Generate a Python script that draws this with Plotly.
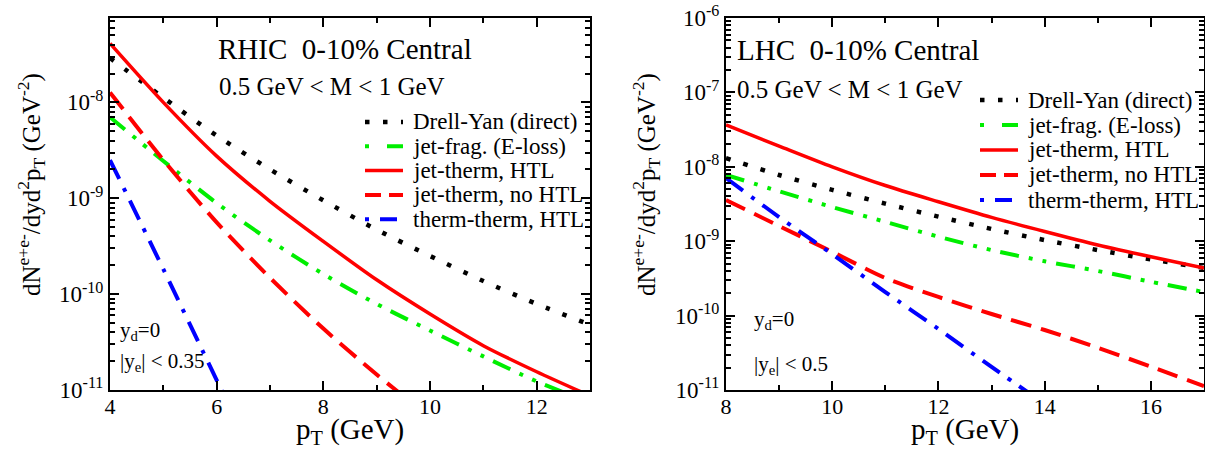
import plotly.graph_objects as go

# ---------------- data: RHIC panel ----------------
rhic_pt = [4, 5, 6, 7, 8, 9, 10, 11, 12, 13]
rhic_drell_yan = [2.9e-8, 1.12e-8, 4.5e-9, 2.0e-9, 9.5e-10, 4.7e-10, 2.5e-10, 1.37e-10, 7.9e-11, 4.8e-11]
rhic_jet_frag = [7.0e-9, 2.45e-9, 8.9e-10, 3.63e-10, 1.62e-10, 7.9e-11, 4.17e-11, 2.24e-11, 1.23e-11, 7.4e-12]
rhic_jet_therm_htl = [4.12e-8, 1.0e-8, 2.75e-9, 9.3e-10, 3.55e-10, 1.41e-10, 6.2e-11, 2.9e-11, 1.55e-11, 8.7e-12]
rhic_pt_nohtl = [4, 5, 6, 7, 8, 9, 10]
rhic_jet_therm_nohtl = [1.27e-8, 2.51e-9, 5.6e-10, 1.48e-10, 4.37e-11, 1.45e-11, 5.2e-12]
rhic_pt_tt = [4, 5, 6, 7]
rhic_therm_therm = [2.5e-9, 1.82e-10, 1.27e-11, 9.0e-13]

# ---------------- data: LHC panel ----------------
lhc_pt = [8, 9, 10, 11, 12, 13, 14, 15, 16, 17]
lhc_drell_yan = [1.31e-8, 7.76e-9, 4.9e-9, 3.2e-9, 2.14e-9, 1.46e-9, 1.035e-9, 7.6e-10, 5.7e-10, 4.37e-10]
lhc_jet_frag = [7.8e-9, 4.68e-9, 2.88e-9, 1.82e-9, 1.15e-9, 7.6e-10, 5.37e-10, 3.98e-10, 2.85e-10, 2.07e-10]
lhc_jet_therm_htl = [3.65e-8, 1.9e-8, 1.0e-8, 5.6e-9, 3.39e-9, 2.09e-9, 1.35e-9, 8.9e-10, 6.17e-10, 4.37e-10]
lhc_jet_therm_nohtl = [3.58e-9, 1.6e-9, 7.2e-10, 3.2e-10, 1.78e-10, 1.05e-10, 6.4e-11, 3.7e-11, 2.06e-11, 1.13e-11]
lhc_pt_tt = [8, 9, 10, 11, 12, 13, 14]
lhc_therm_therm = [7.06e-9, 2.11e-9, 6.7e-10, 2.07e-10, 6.6e-11, 2.04e-11, 6.5e-12]

series_names = ["Drell-Yan (direct)", "jet-frag. (E-loss)", "jet-therm, HTL",
                "jet-therm, no HTL", "therm-therm, HTL"]

rhic_ytick_exp = [-11, -10, -9, -8]
lhc_ytick_exp = [-11, -10, -9, -8, -7, -6]

W, H = 1205, 450
FONT = "Liberation Serif"


def fx(px):
    return px / W


def fy(py):
    return 1 - py / H


styles = [
    dict(color="black", width=4.5, dash="4.5px,13.5px"),
    dict(color="#00ee00", width=4, dash="19px,10px,4px,10px,4px,10px"),
    dict(color="#ff0000", width=3.5, dash="solid"),
    dict(color="#ff0000", width=4, dash="21px,10px"),
    dict(color="#0000ff", width=4, dash="21px,10px,4px,10px"),
]
legend_dash = ["4.5px,13.5px", "4px,18px,16px,20px", "solid", "16px,8px", "4px,11px,17px,20px"]

fig = go.Figure()

rhic = [(rhic_pt, rhic_drell_yan), (rhic_pt, rhic_jet_frag), (rhic_pt, rhic_jet_therm_htl),
        (rhic_pt_nohtl, rhic_jet_therm_nohtl), (rhic_pt_tt, rhic_therm_therm)]
lhc = [(lhc_pt, lhc_drell_yan), (lhc_pt, lhc_jet_frag), (lhc_pt, lhc_jet_therm_htl),
       (lhc_pt, lhc_jet_therm_nohtl), (lhc_pt_tt, lhc_therm_therm)]

for (x, y), st, nm in zip(rhic, styles, series_names):
    fig.add_trace(go.Scatter(x=x, y=y, mode="lines", name=nm,
                             line=dict(st, shape="spline", smoothing=0.8),
                             xaxis="x", yaxis="y", showlegend=False))
for (x, y), st, nm in zip(lhc, styles, series_names):
    fig.add_trace(go.Scatter(x=x, y=y, mode="lines", name=nm,
                             line=dict(st, shape="spline", smoothing=0.8),
                             xaxis="x2", yaxis="y2", showlegend=False))


def minor_log_vals(lo, hi):
    vals = []
    for e in range(lo, hi):
        for m in range(2, 10):
            vals.append(m * 10.0 ** e)
    return vals


def major_log(exps):
    return dict(tickmode="array", tickvals=[10.0 ** e for e in exps],
                ticktext=["10<sup>%d</sup>" % e for e in exps])


common_axis = dict(showline=True, linecolor="black", linewidth=2, mirror="allticks",
                   ticks="inside", ticklen=9, tickwidth=1.5, tickcolor="black",
                   showgrid=False, zeroline=False, automargin=False,
                   tickfont=dict(family=FONT, size=22, color="black"))
minor_x = dict(dtick=1, ticks="inside", ticklen=5, tickwidth=1.5, tickcolor="black")

xa = dict(common_axis, range=[4, 13], dtick=2, tick0=0, ticklabelstandoff=-4,
          domain=[fx(110), fx(590)], anchor="y", minor=minor_x)
xa2 = dict(common_axis, range=[8, 17], dtick=2, tick0=0, ticklabelstandoff=-4,
           domain=[fx(726), fx(1204)], anchor="y2", minor=minor_x)
ya = dict(common_axis, type="log", range=[-11, -7.12],
          domain=[fy(390), fy(18)], anchor="x",
          minor=dict(tickmode="array", tickvals=minor_log_vals(-11, -7), ticks="inside",
                     ticklen=5, tickwidth=1.5, tickcolor="black"),
          **major_log(rhic_ytick_exp))
ya["tickfont"] = dict(family=FONT, size=23, color="black")
ya2 = dict(common_axis, type="log", range=[-11, -6],
           domain=[fy(390), fy(18)], anchor="x2",
           minor=dict(tickmode="array", tickvals=minor_log_vals(-11, -6), ticks="inside",
                      ticklen=5, tickwidth=1.5, tickcolor="black"),
           **major_log(lhc_ytick_exp))
ya2["tickfont"] = dict(family=FONT, size=23, color="black")

annotations = []
shapes = []


def txt(s, x, y, size, xanchor="left", angle=0):
    annotations.append(dict(text=s, x=fx(x), y=fy(y), xref="paper", yref="paper",
                            xanchor=xanchor, yanchor="middle", showarrow=False,
                            textangle=angle,
                            font=dict(family=FONT, size=size, color="black")))


nb = "\u00a0"
# RHIC panel texts
txt("RHIC" + nb + nb + "0-10% Central", 216, 49, 29)
txt("0.5 GeV &lt; M &lt; 1 GeV", 217, 86, 25)
txt("y<sub>d</sub>=0", 118, 331, 21)
txt("|y<sub>e</sub>| &lt; 0.35", 118, 362, 21)
# LHC panel texts
txt("LHC" + nb + nb + "0-10% Central", 735, 50, 29)
txt("0.5 GeV &lt; M &lt; 1 GeV", 735, 90, 25)
txt("y<sub>d</sub>=0", 752, 320, 21)
txt("|y<sub>e</sub>| &lt; 0.5", 752, 365, 21)

# axis titles
ytitle = "dN<sup>e+e-</sup>/dyd<sup>2</sup>p<sub>T</sub> (GeV<sup>-2</sup>)"
txt(ytitle, 31, 185, 25, xanchor="center", angle=-90)
txt(ytitle, 646, 185, 25, xanchor="center", angle=-90)
txt("p<sub>T</sub> (GeV)", 350, 431, 29, xanchor="center")
txt("p<sub>T</sub> (GeV)", 965, 431, 29, xanchor="center")

# legends
legend_specs = [(365, 403, 411, 122, 24.3), (980, 1018, 1026, 100, 25)]
for (lx0, lx1, tx, y0, dy) in legend_specs:
    for i, (st, nm) in enumerate(zip(styles, series_names)):
        yy = y0 + i * dy
        shapes.append(dict(type="line", xref="paper", yref="paper",
                           x0=fx(lx0), x1=fx(lx1), y0=fy(yy), y1=fy(yy),
                           line=dict(color=st["color"], width=st["width"], dash=legend_dash[i])))
        txt(nm, tx, yy, 23)

fig.update_layout(
    width=W, height=H,
    margin=dict(l=0, r=0, t=0, b=0),
    paper_bgcolor="white", plot_bgcolor="white",
    xaxis=xa, yaxis=ya, xaxis2=xa2, yaxis2=ya2,
    annotations=annotations, shapes=shapes,
    showlegend=False,
    font=dict(family=FONT, color="black"),
)

fig.write_html("out.html", config={"displayModeBar": False},
               post_script="document.body.style.margin='0';document.body.style.overflow='hidden';")
